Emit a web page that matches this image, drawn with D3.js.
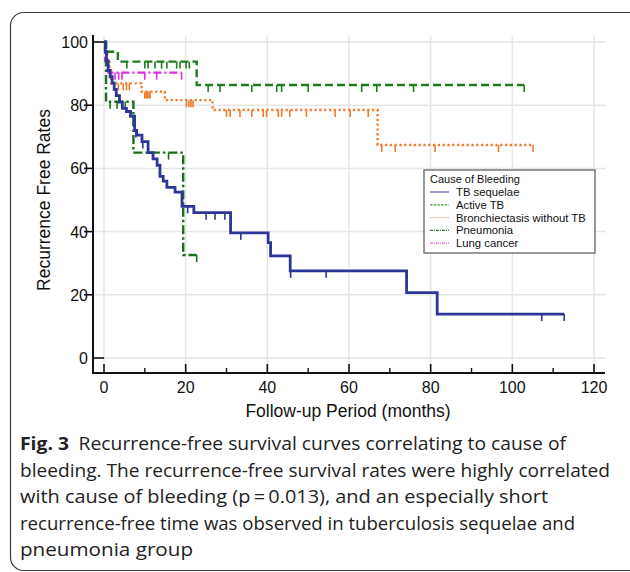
<!DOCTYPE html>
<html>
<head>
<meta charset="utf-8">
<script src="https://cdn.jsdelivr.net/npm/d3@7"></script>
<style>
  body { margin: 0; background: #fff; }
  svg { display: block; }
</style>
</head>
<body>
<div id="chart"></div>
<script>
// Kaplan-Meier step data (months, % recurrence free)
var tbTimes = [0, 0.3, 0.6, 1, 1.5, 2, 2.5, 3, 3.8, 4.5, 5.5, 6.5, 7.5, 8, 9.3, 10.8, 12, 13, 13.7, 14.5, 15.4, 17.4, 19.1, 22, 31, 40.2, 40.8, 45.6, 74.1, 81.6];
var tbSurv = [100, 97, 94, 91, 89, 87, 85, 83, 81, 79, 78, 76.5, 72, 70.5, 68.5, 65, 63, 61, 57.5, 56, 54, 52.5, 48, 46, 39.6, 36.5, 32.3, 27.6, 20.7, 13.9];
var tbEnd = 112.7;
var tbCensor = [7.8, 9.5, 20.5, 25, 27.2, 29.6, 33.5, 45.7, 54.4, 107.2, 112.7];

var activeTimes = [0, 0.5, 3.4, 22.7];
var activeSurv = [100, 96.9, 93.8, 86.4];
var activeEnd = 102.9;
var activeCensor = [5.6, 10, 10.8, 12.5, 14.1, 15.4, 17.8, 18.6, 20.1, 20.9, 25.5, 28.4, 36.2, 42.3, 43.5, 50, 63.1, 66.8, 75.8, 102.9];

var bronchTimes = [0, 0.3, 0.8, 1.3, 1.8, 9.2, 14.9, 26.6, 67];
var bronchSurv = [100, 97, 94.6, 91, 86.9, 84.3, 81.6, 78.5, 67.4];
var bronchEnd = 105.1;
var bronchCensor = [3.5, 4.7, 5.5, 6.2, 10, 10.3, 10.6, 11, 11.3, 20.2, 20.8, 21.3, 21.8, 30, 30.9, 33.3, 36.2, 39, 39.8, 42.7, 43.5, 45.5, 49.6, 56.6, 60.3, 64.7, 68, 71.3, 81.1, 96.6, 105.1];

var pneuTimes = [0, 0.5, 7.2, 19.4];
var pneuSurv = [100, 81.1, 65, 32.6];
var pneuEnd = 22.7;
var pneuCensor = [1.5, 3.2, 5.2, 15.8, 22.7];

var lungTimes = [0, 0.3, 1.1];
var lungSurv = [100, 94, 90.3];
var lungEnd = 19;
var lungCensor = [2.7, 3.6, 4.4, 10, 12.9, 19];

var xTicks = [0, 20, 40, 60, 80, 100, 120];
var xMinor = [10, 30, 50, 70, 90, 110];
var yTicks = [0, 20, 40, 60, 80, 100];

var legendLabels = ["TB sequelae", "Active TB", "Bronchiectasis without TB", "Pneumonia", "Lung cancer"];

var caption = [
  "Recurrence-free survival curves correlating to cause of",
  "bleeding. The recurrence-free survival rates were highly correlated",
  "with cause of bleeding (p\u2009=\u20090.013), and an especially short",
  "recurrence-free time was observed in tuberculosis sequelae and",
  "pneumonia group"
];

var series = [
  {name: legendLabels[2], t: bronchTimes, s: bronchSurv, end: bronchEnd, c: bronchCensor, color: "#f47a2a", dash: "2.2,2.6", legendColor: "#f9b48a", legendDash: "1.5,1"},
  {name: legendLabels[4], t: lungTimes, s: lungSurv, end: lungEnd, c: lungCensor, color: "#e22ce0", dash: "8,3,2,3", legendColor: "#e55ce3", legendDash: "3,1,1,1"},
  {name: legendLabels[1], t: activeTimes, s: activeSurv, end: activeEnd, c: activeCensor, color: "#1f7d1f", dash: "8,4", legendColor: "#3a9a3a", legendDash: "2.5,1.2"},
  {name: legendLabels[3], t: pneuTimes, s: pneuSurv, end: pneuEnd, c: pneuCensor, color: "#1c6e1c", dash: "9,3,2.5,3", legendColor: "#2f7f2f", legendDash: "3,1,1,1"},
  {name: legendLabels[0], t: tbTimes, s: tbSurv, end: tbEnd, c: tbCensor, color: "#2c3599", dash: null, legendColor: "#5a5fa8", legendDash: null}
];

var W = 630, H = 572;

var svg = d3.select("#chart").append("svg")
    .attr("width", W)
    .attr("height", H);

svg.append("rect").attr("width", W).attr("height", H).attr("fill", "#fff");

// figure frame
svg.append("rect")
    .attr("x", 10.5).attr("y", 12.5)
    .attr("width", 632).attr("height", 558)
    .attr("rx", 13).attr("ry", 13)
    .attr("fill", "none")
    .attr("stroke", "#3a3a3a")
    .attr("stroke-width", 1.2);

var x = d3.scaleLinear().domain([0, 120]).range([104, 594]);
var y = d3.scaleLinear().domain([0, 100]).range([358, 42]);

// grid
svg.append("g").selectAll("line")
    .data(xTicks)
  .enter().append("line")
    .attr("x1", function(d) { return x(d); })
    .attr("x2", function(d) { return x(d); })
    .attr("y1", 36).attr("y2", 372)
    .attr("stroke", "#e6e6e6").attr("stroke-width", 1.5);

svg.append("g").selectAll("line")
    .data(yTicks)
  .enter().append("line")
    .attr("x1", 94).attr("x2", 606)
    .attr("y1", function(d) { return y(d); })
    .attr("y2", function(d) { return y(d); })
    .attr("stroke", "#e6e6e6").attr("stroke-width", 1.5);

// axes
var font = "'Liberation Sans', Arial, sans-serif";

svg.append("line")
    .attr("x1", 93).attr("x2", 93).attr("y1", 35).attr("y2", 374)
    .attr("stroke", "#111").attr("stroke-width", 2);
svg.append("line")
    .attr("x1", 92).attr("x2", 605).attr("y1", 373).attr("y2", 373)
    .attr("stroke", "#111").attr("stroke-width", 2.2);

svg.append("g").selectAll("line")
    .data(xTicks)
  .enter().append("line")
    .attr("x1", function(d) { return x(d); })
    .attr("x2", function(d) { return x(d); })
    .attr("y1", 373).attr("y2", 364)
    .attr("stroke", "#111").attr("stroke-width", 1.6);
svg.append("g").selectAll("line")
    .data(xMinor)
  .enter().append("line")
    .attr("x1", function(d) { return x(d); })
    .attr("x2", function(d) { return x(d); })
    .attr("y1", 373).attr("y2", 368)
    .attr("stroke", "#111").attr("stroke-width", 1.4);

svg.append("g").selectAll("text")
    .data(xTicks)
  .enter().append("text")
    .attr("x", function(d) { return x(d); })
    .attr("y", 393)
    .attr("text-anchor", "middle")
    .attr("font-family", font)
    .attr("font-size", "16px")
    .attr("fill", "#111")
    .text(function(d) { return d; });

svg.append("g").selectAll("line")
    .data(yTicks)
  .enter().append("line")
    .attr("x1", function(d) { return (d === 0 || d === 100) ? 93 : 84; })
    .attr("x2", function(d) { return (d === 0 || d === 100) ? 104 : 93; })
    .attr("y1", function(d) { return y(d); })
    .attr("y2", function(d) { return y(d); })
    .attr("stroke", "#111").attr("stroke-width", 1.6);

svg.append("g").selectAll("text")
    .data(yTicks)
  .enter().append("text")
    .attr("x", 88)
    .attr("y", function(d) { return y(d) + 6; })
    .attr("text-anchor", "end")
    .attr("font-family", font)
    .attr("font-size", "16px")
    .attr("fill", "#111")
    .text(function(d) { return d; });

svg.append("text")
    .attr("transform", "translate(50," + ((y(0) + y(100)) / 2) + ") rotate(-90)")
    .attr("text-anchor", "middle")
    .attr("font-family", font)
    .attr("font-size", "17.5px")
    .attr("fill", "#111")
    .text("Recurrence Free Rates");

svg.append("text")
    .attr("x", 348).attr("y", 417)
    .attr("text-anchor", "middle")
    .attr("font-family", font)
    .attr("font-size", "17.5px")
    .attr("fill", "#111")
    .text("Follow-up Period (months)");

// curves
function survAt(sr, t) {
  var v = sr.s[0];
  for (var i = 0; i < sr.t.length; i++) if (sr.t[i] <= t) v = sr.s[i];
  return v;
}

var line = d3.line()
    .x(function(d) { return x(d[0]); })
    .y(function(d) { return y(d[1]); })
    .curve(d3.curveStepAfter);

series.forEach(function(sr) {
  var pts = sr.t.map(function(t, i) { return [t, sr.s[i]]; });
  pts.push([sr.end, sr.s[sr.s.length - 1]]);
  var g = svg.append("g");
  g.append("path")
      .attr("d", line(pts))
      .attr("fill", "none")
      .attr("stroke", sr.color)
      .attr("stroke-width", sr.dash ? 2.4 : 2.8)
      .attr("stroke-dasharray", sr.dash);
  g.selectAll("line")
      .data(sr.c)
    .enter().append("line")
      .attr("x1", function(d) { return x(d); })
      .attr("x2", function(d) { return x(d); })
      .attr("y1", function(d) { return y(survAt(sr, d)); })
      .attr("y2", function(d) { return y(survAt(sr, d)) + 7; })
      .attr("stroke", sr.color)
      .attr("stroke-width", 1.6);
});

// legend
var lg = svg.append("g").attr("transform", "translate(424,170)");
lg.append("rect")
    .attr("width", 171).attr("height", 83)
    .attr("fill", "#fff")
    .attr("stroke", "#555").attr("stroke-width", 1.2);
lg.append("text")
    .attr("x", 6).attr("y", 13)
    .attr("font-family", font).attr("font-size", "11px").attr("fill", "#111")
    .text("Cause of Bleeding");
var legendOrder = [4, 2, 0, 3, 1];
legendOrder.forEach(function(k, i) {
  var sr = series[k];
  var yy = 22 + i * 12.8;
  lg.append("line")
      .attr("x1", 6).attr("x2", 25).attr("y1", yy).attr("y2", yy)
      .attr("stroke", sr.legendColor).attr("stroke-width", 1.2)
      .attr("stroke-dasharray", sr.legendDash);
  lg.append("text")
      .attr("x", 32).attr("y", yy + 4)
      .attr("font-family", font).attr("font-size", "11.3px").attr("fill", "#111")
      .text(sr.name);
});

// caption
var capFont = "'Open Sans', 'Noto Sans', sans-serif";
var capWidths = [546, 590, 528, 555, 173];
caption.forEach(function(txt, i) {
  var t = svg.append("text")
      .attr("x", 20)
      .attr("y", 450 + i * 26.6)
      .attr("font-family", capFont)
      .attr("font-size", "18.5px")
      .attr("fill", "#222")
      .attr("textLength", capWidths[i])
      .attr("lengthAdjust", "spacingAndGlyphs");
  if (i === 0) {
    t.append("tspan").attr("font-weight", "bold").text("Fig. 3");
    t.append("tspan").text("\u2002" + txt);
  } else {
    t.text(txt);
  }
});
</script>
</body>
</html>
